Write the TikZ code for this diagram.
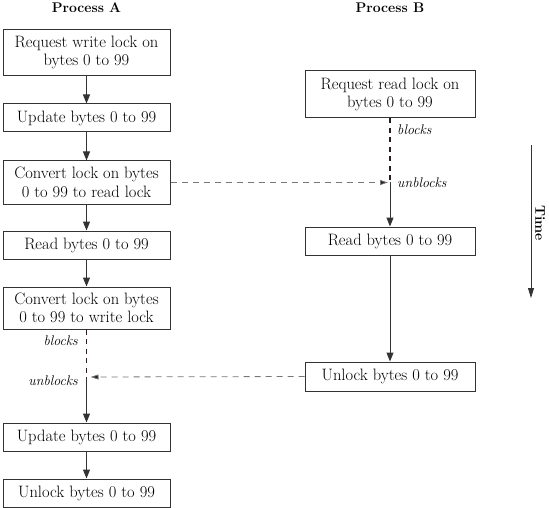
\documentclass[tikz,border=0pt]{standalone}
\usetikzlibrary{arrows.meta}
\definecolor{ln}{HTML}{333333}
\definecolor{dh}{HTML}{777777}
\definecolor{dv}{HTML}{2a1c1c}
\begin{document}
\begin{tikzpicture}[x=1pt,y=-1pt,
  box/.style={draw=ln,line width=1pt,minimum width=167pt,inner sep=0pt,align=center,font=\fontsize{16.5}{18.5}\selectfont},
  onebox/.style={box,minimum height=28pt},
  twobox/.style={box,minimum height=46pt},
  flow/.style={draw=ln,line width=1pt,-{Triangle[length=9pt,width=7pt]}},
  blk/.style={draw=dv,line width=1.2pt,dash pattern=on 5pt off 4.5pt},
  ublk/.style={draw=dh,line width=0.8pt,dash pattern=on 6pt off 5pt,-{Triangle[length=8pt,width=5pt,fill=dv]}},
  lab/.style={font=\fontsize{14}{16}\selectfont\itshape,inner sep=0pt},
  ttl/.style={font=\fontsize{14}{16}\selectfont\bfseries,inner sep=0pt}]
\useasboundingbox (0,0) rectangle (549,508);
\node[ttl] (ta) at (86.5,8) {Process A};
\node[ttl] (tb) at (390,8) {Process B};
\node[twobox] (a1) at (86.5,52.5) {Request write lock on\\bytes 0 to 99};
\node[onebox] (a2) at (86.5,118) {Update bytes 0 to 99};
\node[twobox,minimum height=43pt] (a3) at (86.5,182.5) {Convert lock on bytes\\0 to 99 to read lock};
\node[onebox] (a4) at (86.5,245) {Read bytes 0 to 99};
\node[twobox,minimum height=42pt] (a5) at (86.5,308) {Convert lock on bytes\\0 to 99 to write lock};
\node[onebox] (a6) at (86.5,437) {Update bytes 0 to 99};
\node[onebox] (a7) at (86.5,493) {Unlock bytes 0 to 99};
\node[twobox,minimum width=170pt,minimum height=47pt] (b1) at (390,94.5) {Request read lock on\\bytes 0 to 99};
\node[onebox,minimum width=170pt] (b2) at (390,241) {Read bytes 0 to 99};
\node[onebox,minimum width=170pt,minimum height=29pt] (b3) at (390,376.5) {Unlock bytes 0 to 99};
\coordinate (ua) at (86.5,377);
\coordinate (ub) at (390,182.5);
\draw[flow] (a1) -- (a2);
\draw[flow] (a2) -- (a3);
\draw[flow] (a3) -- (a4);
\draw[flow] (a4) -- (a5);
\draw[blk] (a5.south) -- (ua);
\draw[flow] (ua) -- (a6);
\draw[flow] (a6) -- (a7);
\draw[blk] (b1.south) -- (ub);
\draw[flow] (ub) -- (b2);
\draw[flow] (b2) -- (b3);
\draw[ublk,shorten >=2pt] (a3.east) -- (ub);
\draw[ublk,shorten >=4pt] (b3.west) -- (ua);
\node[lab,anchor=east] (la1) at (78,341) {blocks};
\node[lab,anchor=east] (la2) at (78,381) {unblocks};
\node[lab,anchor=west] (lb1) at (397,130) {blocks};
\node[lab,anchor=west] (lb2) at (397,183) {unblocks};
\coordinate (t1) at (531,145);
\coordinate (t2) at (531,298);
\draw[draw=ln,line width=0.8pt,-{Triangle[length=10pt,width=6pt]}] (t1) -- (t2);
\node[ttl,rotate=-90] (time) at (540,223) {Time};
\end{tikzpicture}
\end{document}
